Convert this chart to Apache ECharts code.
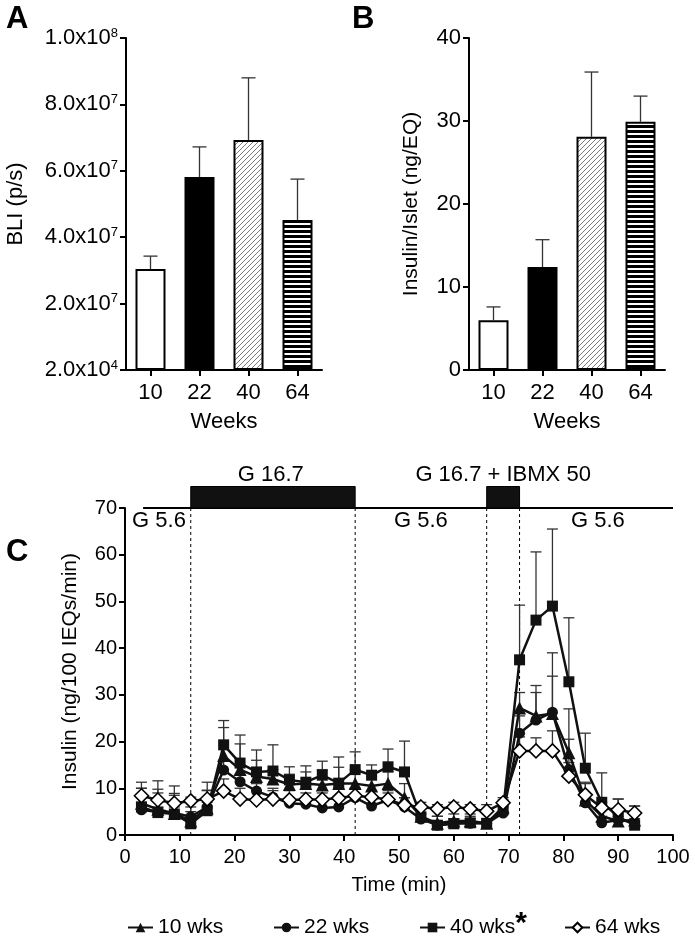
<!DOCTYPE html>
<html><head><meta charset="utf-8">
<script src="https://cdn.jsdelivr.net/npm/echarts@6/dist/echarts.min.js"></script>
<style>html,body{margin:0;padding:0;background:#fff}#c{width:695px;height:946px}</style>
</head><body><div id="c"></div>
<script>
// ---------- DATA ----------
const weeks = ['10', '22', '40', '64'];
const bliMean = [3.04e7, 5.81e7, 6.93e7, 4.52e7];
const bliUpper = [3.43e7, 6.72e7, 8.80e7, 5.75e7];
const insMean = [6.0, 12.4, 28.1, 29.9];
const insUpper = [7.6, 15.7, 35.9, 33.0];
const bliTickMant = ['2.0x10', '2.0x10', '4.0x10', '6.0x10', '8.0x10', '1.0x10'];
const bliTickExp = ['4', '7', '7', '7', '7', '8'];

const time = [3,6,9,12,15,18,21,24,27,30,33,36,39,42,45,48,51,54,57,60,63,66,69,72,75,78,81,84,87,90,93];
const w10 = [6.8,5.5,4.6,3.0,5.8,17.0,14.0,12.5,12.0,10.8,11.0,10.7,11.0,11.0,10.5,11.0,8.0,4.0,2.5,3.0,3.0,2.5,6.0,27.2,25.5,26.0,17.6,7.5,4.0,3.0,3.2];
const w10Up = [10.0,9.0,8.5,6.0,9.5,23.0,19.5,16.0,14.0,13.0,13.5,14.0,14.5,14.0,12.5,13.5,11.0,5.5,4.0,4.5,4.5,3.5,7.5,30.5,32.0,34.0,27.0,11.0,6.0,4.5,4.5];
const w22 = [5.4,4.9,4.7,3.9,6.0,13.9,11.4,9.4,8.1,6.8,6.6,5.8,6.0,8.0,6.2,7.5,6.0,3.4,2.1,2.5,2.5,2.5,4.7,21.8,24.6,26.3,14.0,6.9,2.6,3.2,2.8];
const w22Up = [7.0,6.0,6.0,5.0,7.0,16.0,13.0,11.0,10.0,8.0,8.0,7.5,8.0,10.0,8.0,9.5,8.0,4.5,3.0,3.5,3.5,3.5,6.0,25.5,30.5,39.0,20.5,9.0,4.0,4.0,3.5];
const w40 = [6.0,4.8,4.5,2.4,5.2,19.3,15.4,13.5,13.7,11.8,11.3,12.8,11.1,14.0,12.8,14.6,13.5,3.9,2.1,2.4,2.6,2.5,5.4,37.5,46.0,49.0,32.8,14.3,7.0,3.9,2.1];
const w40Up = [11.3,11.6,10.5,4.0,11.3,24.5,21.4,18.2,19.3,14.6,14.8,15.8,16.7,17.8,15.0,18.4,20.1,6.0,4.0,3.5,4.0,3.0,7.0,49.2,60.6,65.5,46.5,21.8,13.3,7.7,6.2];
const w64 = [8.4,7.5,6.8,7.3,7.7,9.4,7.7,7.5,7.7,7.5,7.6,7.6,7.9,8.4,8.1,7.6,6.4,6.0,5.6,6.0,5.6,5.1,6.9,18.0,18.0,18.0,12.6,8.6,5.8,5.4,4.7];
const w64Up = [10.0,9.8,8.9,8.1,9.6,12.0,10.0,9.5,9.5,9.5,9.0,9.0,10.0,10.0,9.5,9.0,8.0,7.0,6.5,7.0,6.5,6.5,8.0,21.0,20.8,22.3,15.5,11.3,7.0,7.7,6.2];
const seriesNames = ['10 wks', '22 wks', '40 wks', '64 wks'];
const starredSeries = 2;
const stimBoxes = [[12, 42], [66, 72]];
const dashTimes = [12, 42, 66, 72];

// ---------- STYLE ----------
const FF = '"Liberation Sans", Arial, sans-serif';
function hatch() {
  const c = document.createElement('canvas'); c.width = 5; c.height = 5;
  const g = c.getContext('2d'); g.fillStyle = '#fff'; g.fillRect(0, 0, 5, 5);
  g.strokeStyle = '#7a7a7a'; g.lineWidth = 1; g.beginPath();
  g.moveTo(-1, 6); g.lineTo(6, -1); g.moveTo(-1, 1); g.lineTo(1, -1); g.moveTo(4, 6); g.lineTo(6, 4);
  g.stroke(); return c;
}
function stripes() {
  const c = document.createElement('canvas'); c.width = 5; c.height = 5;
  const g = c.getContext('2d'); g.fillStyle = '#fff'; g.fillRect(0, 0, 5, 5);
  g.fillStyle = '#000'; g.fillRect(0, 0, 5, 3); return c;
}
const barFills = ['#fff', '#000', {image: hatch(), repeat: 'repeat'}, {image: stripes(), repeat: 'repeat'}];

const axisLine = {show: true, lineStyle: {color: '#000', width: 2}};
const axisTick = {show: true, length: 6, lineStyle: {color: '#000', width: 2}};
const lbl = (fs) => ({color: '#000', fontSize: fs, fontFamily: FF});

function errRender(capW) {
  return function (params, api) {
    const x = api.value(0), y = api.value(1), u = api.value(2);
    const p0 = api.coord([x, y]), p1 = api.coord([x, u]);
    const st = {stroke: '#333', lineWidth: 1.3};
    return {type: 'group', children: [
      {type: 'line', shape: {x1: p0[0], y1: p0[1], x2: p1[0], y2: p1[1]}, style: st},
      {type: 'line', shape: {x1: p1[0] - capW / 2, y1: p1[1], x2: p1[0] + capW / 2, y2: p1[1]}, style: st}
    ]};
  };
}

const chart = echarts.init(document.getElementById('c'), null, {renderer: 'canvas'});

const lineData = [w10, w22, w40, w64];
const upData = [w10Up, w22Up, w40Up, w64Up];
const symbols = ['triangle', 'circle', 'rect', 'diamond'];
const symSizes = [13, 11, 11, 14];

const series = [];
// Panel A
series.push({type: 'custom', xAxisIndex: 0, yAxisIndex: 0, z: 1, renderItem: errRender(14),
  data: weeks.map((w, i) => [i, bliMean[i], bliUpper[i]])});
series.push({type: 'bar', xAxisIndex: 0, yAxisIndex: 0, barWidth: 30, z: 2,
  data: bliMean.map((v, i) => ({value: v, itemStyle: {color: barFills[i], borderColor: '#000', borderWidth: 2}}))});
// Panel B
series.push({type: 'custom', xAxisIndex: 1, yAxisIndex: 1, z: 1, renderItem: errRender(14),
  data: weeks.map((w, i) => [i, insMean[i], insUpper[i]])});
series.push({type: 'bar', xAxisIndex: 1, yAxisIndex: 1, barWidth: 30, z: 2,
  data: insMean.map((v, i) => ({value: v, itemStyle: {color: barFills[i], borderColor: '#000', borderWidth: 2}}))});
// Panel C
lineData.forEach((d, k) => {
  series.push({type: 'custom', xAxisIndex: 2, yAxisIndex: 2, z: 1, renderItem: errRender(11),
    data: time.map((t, i) => [t, d[i], upData[k][i]])});
});
lineData.forEach((d, k) => {
  series.push({type: 'line', name: seriesNames[k], xAxisIndex: 2, yAxisIndex: 2, z: 3 + k,
    symbol: symbols[k], symbolSize: symSizes[k], showSymbol: true,
    lineStyle: {color: '#111', width: 2.5},
    itemStyle: k === 3 ? {color: '#fff', borderColor: '#000', borderWidth: 1.6} : {color: '#111', borderColor: '#111', borderWidth: 0},
    data: time.map((t, i) => [t, d[i]])});
});

const legendLeft = [127, 273, 419, 564];
const legendTop = 917;
const option = {
  animation: false,
  backgroundColor: '#fff',
  textStyle: {fontFamily: FF},
  grid: [
    {left: 126, top: 38, width: 196, height: 332},
    {left: 469, top: 38, width: 196, height: 332},
    {left: 125, top: 508, width: 548, height: 327}
  ],
  xAxis: [
    {gridIndex: 0, type: 'category', data: weeks, axisLine, axisTick: Object.assign({alignWithLabel: true}, axisTick),
     axisLabel: Object.assign({margin: 12}, lbl(22)), name: 'Weeks', nameLocation: 'middle', nameGap: 41, nameTextStyle: lbl(22)},
    {gridIndex: 1, type: 'category', data: weeks, axisLine, axisTick: Object.assign({alignWithLabel: true}, axisTick),
     axisLabel: Object.assign({margin: 12}, lbl(22)), name: 'Weeks', nameLocation: 'middle', nameGap: 41, nameTextStyle: lbl(22)},
    {gridIndex: 2, type: 'value', min: 0, max: 100, interval: 10, axisLine, axisTick, splitLine: {show: false},
     axisLabel: Object.assign({margin: 12}, lbl(20)), name: 'Time (min)', nameLocation: 'middle', nameGap: 40, nameTextStyle: lbl(20)}
  ],
  yAxis: [
    {gridIndex: 0, type: 'value', min: 0, max: 1e8, interval: 2e7, axisLine, axisTick, splitLine: {show: false},
     axisLabel: Object.assign({margin: 8, formatter: (v) => { const i = Math.round(v / 2e7); return '{m|' + bliTickMant[i] + '}{e|' + bliTickExp[i] + '}'; },
       rich: {m: {fontSize: 22, fontFamily: FF, color: '#000', lineHeight: 23}, e: {fontSize: 13, fontFamily: FF, color: '#000', lineHeight: 13, verticalAlign: 'top'}}}, lbl(22)),
     name: 'BLI (p/s)', nameLocation: 'middle', nameGap: 99, nameTextStyle: lbl(22)},
    {gridIndex: 1, type: 'value', min: 0, max: 40, interval: 10, axisLine, axisTick, splitLine: {show: false},
     axisLabel: Object.assign({margin: 8}, lbl(22)), name: 'Insulin/Islet (ng/EQ)', nameLocation: 'middle', nameGap: 47, nameTextStyle: lbl(21)},
    {gridIndex: 2, type: 'value', min: 0, max: 70, interval: 10, axisLine, axisTick, splitLine: {show: false},
     axisLabel: Object.assign({margin: 8}, lbl(20)), name: 'Insulin (ng/100 IEQs/min)', nameLocation: 'middle', nameGap: 44, nameTextStyle: lbl(21)}
  ],
  legend: seriesNames.map((n, i) => ({
    data: [n], left: legendLeft[i], top: legendTop, padding: 0, itemWidth: 25, itemHeight: 12, itemGap: 4,
    textStyle: {fontSize: 21, fontFamily: FF, color: '#000'}
  })),
  series
};
chart.setOption(option);

// ---------- annotations positioned through the axes ----------
const P = (x, y) => chart.convertToPixel({gridIndex: 2}, [x, y]);
const g = [];
const a = P(3.3, 70), b = P(100, 70);
g.push({type: 'line', shape: {x1: a[0], y1: a[1], x2: b[0], y2: b[1]}, style: {stroke: '#000', lineWidth: 2}, z: 10});
stimBoxes.forEach(([x0, x1]) => {
  const p0 = P(x0, 74.6), p1 = P(x1, 70);
  g.push({type: 'rect', shape: {x: p0[0], y: p0[1], width: p1[0] - p0[0], height: p1[1] - p0[1]}, style: {fill: '#111', stroke: '#000', lineWidth: 1}, z: 10});
});
dashTimes.forEach((t) => {
  const p0 = P(t, 70), p1 = P(t, 0);
  g.push({type: 'line', shape: {x1: p0[0], y1: p0[1], x2: p1[0], y2: p1[1]}, style: {stroke: '#000', lineWidth: 1, lineDash: [3, 3]}, z: 0});
});
function txt(x, y, s, align) {
  const p = P(x, y);
  g.push({type: 'text', x: p[0], y: p[1], z: 10, style: {text: s, fill: '#000', font: '22px ' + FF, textAlign: align || 'center', textVerticalAlign: 'middle'}});
}
txt(26.6, 77.1, 'G 16.7');
txt(69.0, 77.1, 'G 16.7 + IBMX 50');
txt(1.3, 67.2, 'G 5.6', 'left');
txt(54.0, 67.2, 'G 5.6');
txt(86.3, 67.2, 'G 5.6');
[['A', 6, 4], ['B', 352, 4], ['C', 6, 537]].forEach(([s, x, y]) => {
  g.push({type: 'text', x, y, z: 10, style: {text: s, fill: '#000', font: 'bold 31px ' + FF}});
});
// significance star after the "40 wks" legend entry
const mc = document.createElement('canvas').getContext('2d');
mc.font = '21px ' + FF;
const starX = legendLeft[starredSeries] + 25 + 5 + mc.measureText(seriesNames[starredSeries]).width + 1;
g.push({type: 'text', x: starX, y: legendTop - 8, z: 10, style: {text: '*', fill: '#000', font: 'bold 30px ' + FF}});
chart.setOption({graphic: g});
</script>
</body></html>
